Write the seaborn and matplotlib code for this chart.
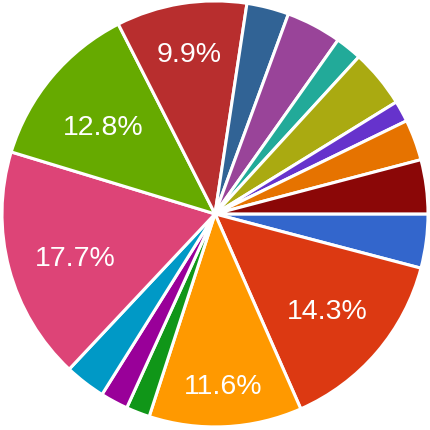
import matplotlib
matplotlib.use("Agg")
import numpy as np
import matplotlib.pyplot as plt
import seaborn as sns

categories = ["A", "B", "C", "D", "E", "F", "G", "H",
              "I", "J", "K", "L", "M", "N", "O", "P"]
values = [4.1, 14.3, 11.6, 1.8, 2.1, 3.1, 17.7, 12.8,
          9.9, 3.2, 4.2, 2.0, 4.4, 1.6, 3.1, 4.1]
colors = ["#3366cc", "#dc3912", "#ff9900", "#109618", "#990099", "#0099c6",
          "#dd4477", "#66aa00", "#b82e2e", "#316395", "#994499", "#22aa99",
          "#aaaa11", "#6633cc", "#e67300", "#8b0707"]

sns.set_theme(style="white")
plt.rcParams['font.family'] = ['Liberation Sans', 'DejaVu Sans']
palette = sns.color_palette(colors)

fig = plt.figure(figsize=(4.3, 4.3), dpi=100)
ax = fig.add_axes([0, 0, 1, 1])
r = 213 / 215

def fmt(p):
    return f"{p:.1f}%" if p >= 5 else ""

wedges, texts, autotexts = ax.pie(
    values, colors=palette, startangle=0, counterclock=False,
    radius=r, autopct=fmt, pctdistance=0.69,
    wedgeprops=dict(edgecolor="white", linewidth=2.2),
    textprops=dict(color="white", fontsize=20.5))

# label distance (fraction of radius) and angle shift per labelled slice
label_dist = {1: 0.69, 2: 0.80, 6: 0.685, 7: 0.67, 8: 0.77}
angle_shift = {1: 0, 2: 0, 6: 2.0, 7: 1.5, 8: 0}
for i, (w, t) in enumerate(zip(wedges, autotexts)):
    if i in label_dist:
        ang = np.deg2rad((w.theta1 + w.theta2) / 2 + angle_shift[i])
        d = label_dist[i] * r
        t.set_position((d * np.cos(ang), d * np.sin(ang)))
        t.set_verticalalignment("center_baseline")

ax.set_xlim(-1, 1)
ax.set_ylim(-1.005, 0.995)
ax.set_aspect("equal")
ax.axis("off")
fig.savefig("out.png", dpi=100, facecolor="white")
